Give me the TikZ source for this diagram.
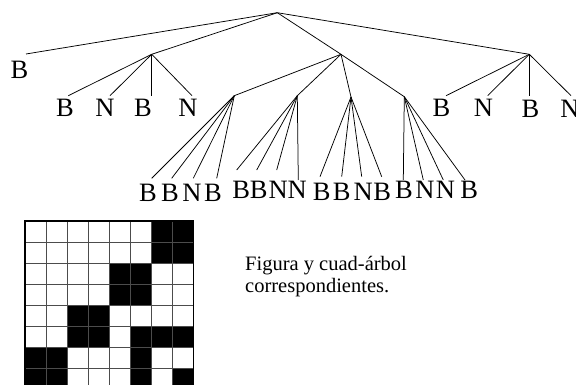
\documentclass[tikz,border=0pt]{standalone}
\usepackage{fontspec}
\setmainfont{Liberation Serif}
\begin{document}
\begin{tikzpicture}[x=1pt,y=-1pt,
  edge/.style={line width=0.75pt, black},
  leaf/.style={inner sep=0pt, font=\fontsize{26.5}{30}\selectfont},
  caption/.style={inner sep=0pt, anchor=base west, font=\fontsize{20.5}{23}\selectfont},
  gridline/.style={line width=0.9pt, black!70},
  gridframe/.style={line width=1.2pt, black}]
\useasboundingbox (0,0) rectangle (576,385);
% internal nodes
\coordinate (R) at (277.3,12.7);
\coordinate (A) at (151.7,54.3);
\coordinate (C) at (341,54.3);
\coordinate (D) at (529.3,54.3);
\coordinate (e0) at (26,54);
\coordinate (a1) at (68.3,95.7); \coordinate (a2) at (110,95.7);
\coordinate (a3) at (151.7,95.7); \coordinate (a4) at (192,95.7);
\coordinate (c1) at (234.3,95.7); \coordinate (c2) at (297.3,95.7);
\coordinate (c3) at (351,97); \coordinate (c4) at (404.3,96.7);
\coordinate (d1) at (446,95.7); \coordinate (d2) at (487.7,95.7);
\coordinate (d3) at (529.3,95.7); \coordinate (d4) at (571,95.7);
% level 3 ends
\coordinate (c11) at (151.7,178.3); \coordinate (c12) at (171.7,178.3);
\coordinate (c13) at (193.3,178.3); \coordinate (c14) at (216.7,178.3);
\coordinate (c21) at (236.7,170); \coordinate (c22) at (256.7,170);
\coordinate (c23) at (276.7,170); \coordinate (c24) at (298.3,180);
\coordinate (c31) at (320,176.7); \coordinate (c32) at (341.7,176.7);
\coordinate (c33) at (361.7,176.7); \coordinate (c34) at (381.7,176.7);
\coordinate (c41) at (403.3,180); \coordinate (c42) at (423.3,180);
\coordinate (c43) at (443.3,180); \coordinate (c44) at (465,180);
% edges
\draw[edge] (R) -- (e0);
\draw[edge] (R) -- (A);
\draw[edge] (R) -- (C);
\draw[edge] (R) -- (D);
\foreach \n in {a1,a2,a3,a4} \draw[edge] (A) -- (\n);
\foreach \n in {c1,c2,c3,c4} \draw[edge] (C) -- (\n);
\foreach \n in {d1,d2,d3,d4} \draw[edge] (D) -- (\n);
\foreach \p in {c1,c2,c3,c4} \foreach \k in {1,2,3,4} \draw[edge] (\p) -- (\p\k);
% labels
\node[leaf] (l0) at (19.5,69.5) {B};
\node[leaf] (la1) at (65,108) {B};
\node[leaf] (la2) at (105,108) {N};
\node[leaf] (la3) at (143,108) {B};
\node[leaf] (la4) at (188,108) {N};
\node[leaf] (ld1) at (441.5,108) {B};
\node[leaf] (ld2) at (483.5,108) {N};
\node[leaf] (ld3) at (530.5,109) {B};
\node[leaf] (ld4) at (570,109) {N};
\node[leaf] (l11) at (148,193) {B};
\node[leaf] (l12) at (170,193) {B};
\node[leaf] (l13) at (192,193) {N};
\node[leaf] (l14) at (213,193) {B};
\node[leaf] (l21) at (241.2,190) {B};
\node[leaf] (l22) at (258.8,190) {B};
\node[leaf] (l23) at (278.3,190) {N};
\node[leaf] (l24) at (297.2,190) {N};
\node[leaf] (l31) at (321.7,191.7) {B};
\node[leaf] (l32) at (341.7,191.7) {B};
\node[leaf] (l33) at (363.3,191.7) {N};
\node[leaf] (l34) at (382.2,191.7) {B};
\node[leaf] (l41) at (404,190) {B};
\node[leaf] (l42) at (425,190) {N};
\node[leaf] (l43) at (445.5,190) {N};
\node[leaf] (l44) at (469.3,190) {B};
% grid
\foreach \r/\c in {0/6,0/7,1/6,1/7,2/4,2/5,3/4,3/5,4/2,4/3,5/2,5/3,5/5,5/6,5/7,6/0,6/1,6/5,7/0,7/1,7/5,7/7}
  \fill[black] ({25+\c*21.1},{221+\r*21.1}) rectangle ++(21.1,21.1);
\foreach \i in {1,...,7} {
  \draw[gridline] ({25+\i*21.1},221) -- ++(0,168.8);
  \draw[gridline] (25,{221+\i*21.1}) -- ++(168.8,0);
}
\draw[gridframe] (25,221) rectangle (193.8,389.8);
% caption
\node[caption] (t1) at (245,270.7) {Figura y cuad-árbol};
\node[caption] (t2) at (245,292.7) {correspondientes.};
\end{tikzpicture}
\end{document}
